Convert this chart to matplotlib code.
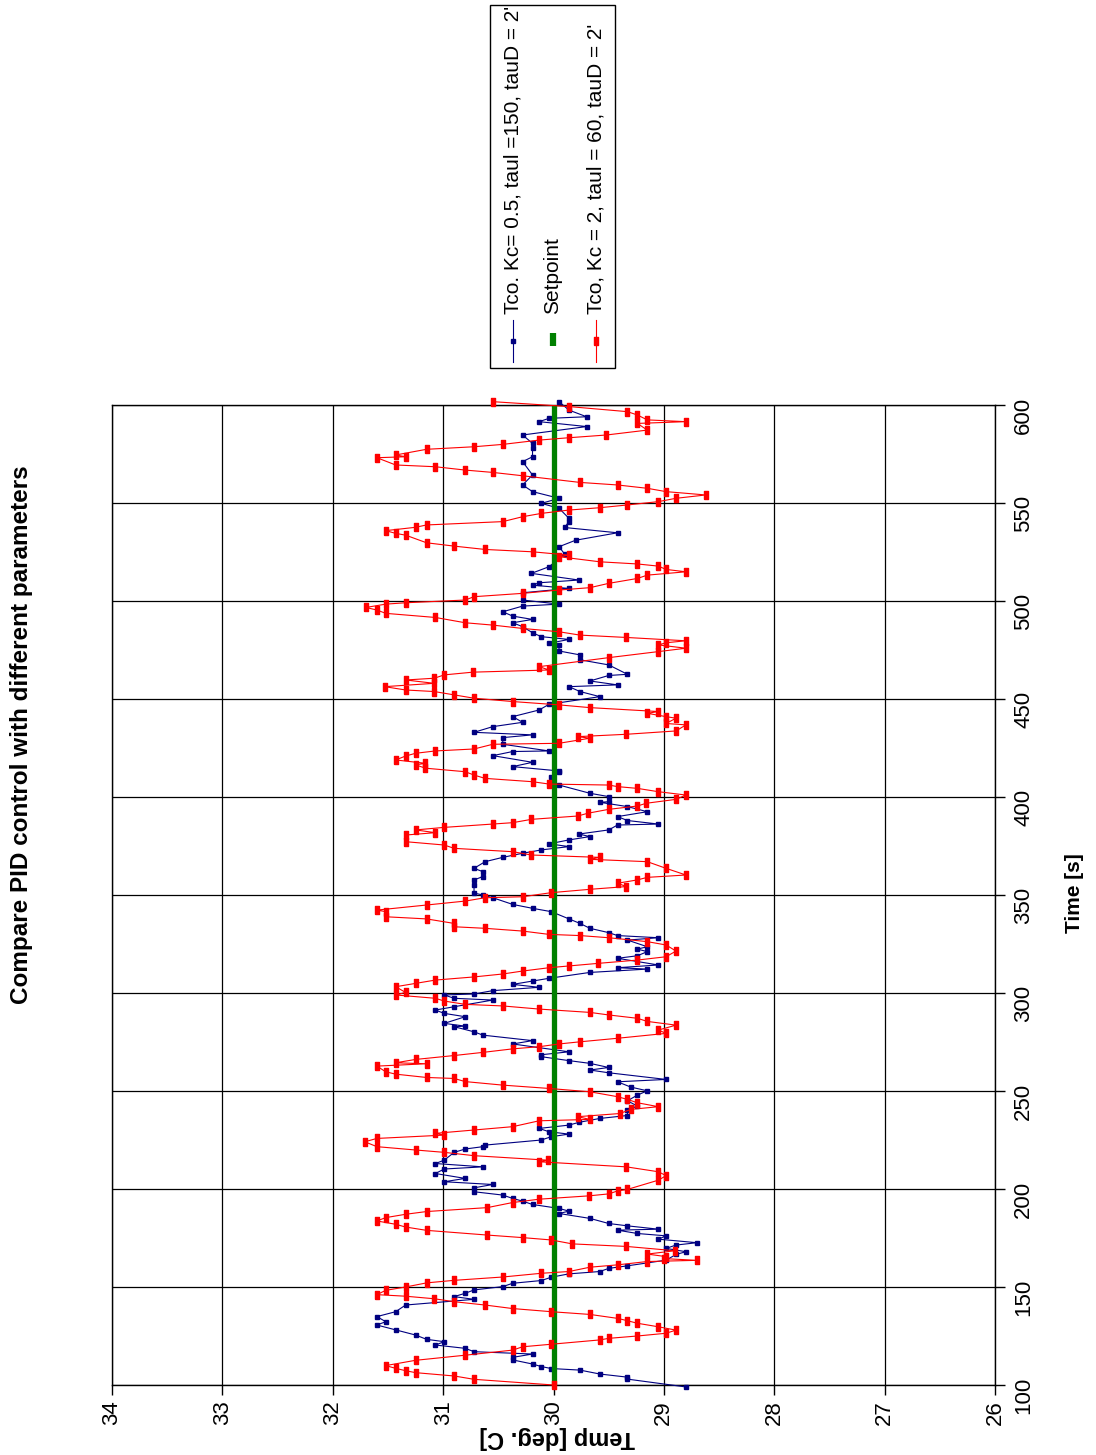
import matplotlib
matplotlib.use("Agg")
import matplotlib.pyplot as plt
from matplotlib.lines import Line2D
from matplotlib.patches import Rectangle

plt.rcParams['font.family'] = ['Liberation Sans', 'DejaVu Sans']

title = "Compare PID control with different parameters"
time_label = "Time [s]"
temp_label = "Temp [deg. C]"
legend_labels = ["Tco. Kc= 0.5, taul =150, tauD = 2'",
                 "Setpoint",
                 "Tco, Kc = 2, taul = 60, tauD = 2'"]

time_ticks = [100, 150, 200, 250, 300, 350, 400, 450, 500, 550, 600]
temp_ticks = [34, 33, 32, 31, 30, 29, 28, 27, 26]

# Tco, Kc=0.5, tauI=150 (blue)
blue_t = [99.0, 103.0, 104.0, 105.6, 107.6, 108.4, 109.4, 110.7, 112.8, 114.1,
          115.8, 117.0, 118.7, 120.4, 122.1, 123.3, 125.5, 128.1, 130.6, 132.3,
          134.9, 137.4, 140.8, 143.7, 145.1, 146.8, 148.5, 150.2, 151.9, 153.3,
          155.0, 156.7, 157.9, 159.5, 160.8, 163.7, 166.6, 168.0, 169.7, 171.4,
          172.6, 174.4, 176.1, 177.3, 179.0, 179.5, 181.2, 182.4, 185.0, 187.5,
          188.7, 190.1, 192.1, 193.8, 195.2, 196.9, 198.6, 200.6, 202.3, 203.7,
          205.4, 207.9, 210.2, 211.3, 213.0, 214.7, 218.7, 220.4, 221.6, 222.4,
          225.0, 226.7, 228.0, 229.2, 230.9, 232.6, 234.0, 236.0, 237.5, 240.3,
          242.3, 245.0, 247.9, 250.1, 252.0, 254.7, 255.9, 259.3, 260.7, 262.0,
          264.1, 265.5, 267.5, 268.5, 270.0, 274.0, 275.7, 278.5, 280.2, 282.8,
          283.1, 284.5, 287.9, 289.6, 291.3, 293.0, 296.4, 297.3, 299.0, 299.5,
          301.2, 302.9, 304.4, 306.1, 307.5, 310.5, 312.2, 312.9, 314.3, 317.7,
          319.0, 321.1, 322.4, 323.6, 327.0, 328.2, 329.3, 330.8, 333.0, 335.5,
          337.8, 341.5, 343.2, 345.2, 348.6, 350.0, 351.0, 355.1, 357.7, 359.4,
          361.9, 363.6, 367.0, 369.2, 371.3, 373.0, 374.7, 376.1, 378.1, 379.8,
          381.1, 383.2, 385.7, 386.2, 388.0, 390.0, 392.5, 395.1, 397.3, 397.6,
          400.2, 401.9, 406.1, 406.7, 410.4, 412.9, 413.3, 415.5, 417.7, 421.1,
          423.2, 423.5, 426.9, 430.3, 431.7, 433.0, 435.9, 438.1, 441.0, 444.4,
          447.3, 451.2, 453.8, 456.3, 457.2, 459.2, 462.0, 462.6, 467.4, 470.0,
          472.5, 474.5, 477.6, 478.4, 480.4, 481.8, 483.8, 486.9, 488.9, 490.6,
          492.3, 494.5, 497.4, 498.4, 500.5, 504.2, 506.4, 508.1, 509.3, 510.7,
          514.1, 517.5, 524.0, 527.7, 531.0, 534.8, 537.5, 540.5, 542.2, 547.3,
          549.8, 552.4, 555.8, 559.2, 564.3, 571.1, 573.6, 577.9, 580.4, 584.7,
          589.0, 591.5, 593.2, 594.0, 597.4, 601.7]
blue_T = [28.80, 29.33, 29.33, 29.58, 29.76, 30.02, 30.11, 30.19, 30.37, 30.37,
          30.19, 30.72, 30.80, 31.07, 30.99, 31.15, 31.25, 31.43, 31.60, 31.52,
          31.60, 31.43, 31.34, 30.72, 30.90, 30.80, 30.72, 30.46, 30.37, 30.11,
          30.02, 29.86, 29.58, 29.50, 29.33, 28.98, 28.89, 28.80, 28.98, 28.89,
          28.70, 29.05, 28.98, 29.24, 29.42, 29.05, 29.33, 29.50, 29.67, 29.95,
          29.86, 29.95, 30.19, 30.28, 30.37, 30.46, 30.72, 30.72, 30.55, 30.99,
          30.80, 31.07, 30.99, 30.64, 31.07, 30.99, 30.90, 30.80, 30.64, 30.62,
          30.11, 30.02, 29.86, 30.04, 30.13, 29.86, 29.77, 29.58, 29.33, 29.33,
          29.24, 29.33, 29.24, 29.15, 29.30, 29.42, 28.98, 29.50, 29.67, 29.50,
          29.67, 29.86, 30.11, 30.11, 29.86, 30.37, 30.19, 30.64, 30.72, 30.90,
          30.80, 30.99, 30.80, 30.99, 31.07, 30.90, 30.55, 30.90, 30.99, 30.72,
          30.55, 30.13, 30.37, 30.19, 30.04, 29.67, 29.15, 29.42, 29.05, 29.42,
          29.24, 29.15, 29.24, 29.15, 29.33, 29.05, 29.42, 29.50, 29.67, 29.76,
          29.86, 30.02, 30.19, 30.37, 30.55, 30.64, 30.72, 30.72, 30.72, 30.64,
          30.64, 30.72, 30.62, 30.46, 30.28, 30.11, 29.86, 30.04, 29.86, 29.67,
          29.77, 29.50, 29.42, 29.05, 29.33, 29.42, 29.15, 29.33, 29.58, 29.50,
          29.50, 29.67, 29.95, 30.02, 30.02, 29.95, 29.95, 30.37, 30.19, 30.55,
          30.37, 30.04, 30.46, 30.46, 30.19, 30.72, 30.55, 30.28, 30.37, 30.13,
          30.04, 29.58, 29.76, 29.86, 29.42, 29.67, 29.50, 29.33, 29.50, 29.76,
          29.76, 29.95, 29.95, 30.04, 29.86, 30.11, 30.19, 30.28, 30.37, 30.19,
          30.37, 30.46, 30.28, 29.95, 30.28, 30.28, 29.86, 30.19, 30.13, 29.77,
          30.20, 30.04, 29.90, 29.95, 29.80, 29.42, 29.90, 29.86, 29.86, 29.95,
          30.11, 29.95, 30.19, 30.28, 30.19, 30.28, 30.19, 30.19, 30.19, 30.28,
          29.70, 30.13, 30.04, 29.70, 29.86, 29.95]

# Tco, Kc=2, tauI=60 (red)
red_t = [100.0, 102.9, 104.6, 106.3, 107.3, 108.5, 109.9, 112.6, 115.2, 117.8,
         119.5, 120.8, 123.0, 123.8, 125.0, 126.4, 128.0, 129.7, 131.5, 132.8,
         134.0, 136.0, 137.4, 139.0, 140.8, 142.5, 144.0, 145.3, 146.1, 148.3,
         150.0, 152.1, 153.4, 155.1, 157.0, 157.9, 160.1, 161.3, 163.0, 163.6,
         164.5, 165.5, 166.8, 168.5, 170.7, 172.0, 174.0, 175.2, 176.5, 178.9,
         180.6, 182.0, 183.7, 185.4, 187.1, 188.5, 190.5, 193.1, 194.8, 196.5,
         197.5, 199.0, 199.8, 204.5, 206.8, 208.8, 211.3, 213.9, 214.7, 217.0,
         218.7, 219.9, 221.6, 224.1, 225.8, 227.5, 228.4, 230.1, 231.8, 234.8,
         235.5, 236.9, 238.5, 240.6, 242.0, 244.0, 245.7, 247.1, 249.6, 251.3,
         253.0, 254.8, 256.4, 256.9, 258.6, 259.8, 262.7, 263.9, 264.4, 266.1,
         268.1, 269.7, 271.5, 272.6, 274.0, 275.1, 276.9, 279.4, 281.1, 283.6,
         285.5, 287.1, 288.8, 290.1, 291.8, 293.4, 294.2, 295.9, 297.3, 299.0,
         300.3, 303.2, 304.9, 306.6, 308.2, 309.7, 311.2, 312.9, 313.8, 315.1,
         316.8, 318.5, 321.4, 324.5, 326.2, 328.2, 329.3, 329.9, 331.6, 333.0,
         333.8, 335.5, 337.8, 338.9, 341.5, 342.3, 344.9, 346.9, 348.6, 349.1,
         351.2, 352.9, 354.3, 356.0, 357.7, 359.0, 360.2, 363.6, 367.0, 368.2,
         369.2, 370.4, 372.1, 373.8, 375.5, 377.2, 380.6, 381.8, 383.2, 384.5,
         386.2, 386.9, 388.6, 390.3, 391.7, 393.7, 395.4, 396.8, 398.8, 401.0,
         402.7, 404.4, 405.3, 406.1, 406.6, 407.8, 409.5, 411.2, 412.9, 414.7,
         416.4, 417.2, 418.9, 420.9, 422.3, 423.5, 424.5, 426.9, 427.4, 430.0,
         430.8, 432.0, 433.7, 436.8, 437.5, 440.2, 441.0, 442.7, 443.6, 445.6,
         447.0, 448.7, 450.4, 452.1, 453.8, 454.6, 456.3, 458.0, 459.7, 460.6,
         462.3, 463.7, 464.8, 466.5, 471.1, 474.2, 475.9, 477.6, 478.7, 479.7,
         481.4, 482.6, 484.3, 486.0, 487.7, 488.9, 491.6, 493.7, 495.4, 496.7,
         498.4, 499.1, 500.5, 502.2, 503.9, 505.6, 506.8, 509.0, 511.5, 513.2,
         514.9, 516.1, 517.8, 518.9, 520.0, 522.6, 523.4, 525.1, 526.3, 528.0,
         529.7, 533.6, 534.5, 535.9, 537.6, 538.8, 540.5, 543.0, 544.7, 546.4,
         547.6, 549.0, 550.7, 552.4, 554.1, 555.8, 557.5, 559.2, 560.5, 563.9,
         565.6, 566.8, 568.5, 569.4, 573.1, 573.6, 574.5, 577.4, 578.7, 579.9,
         582.1, 583.3, 584.7, 587.2, 590.6, 591.5, 592.4, 594.9, 596.6, 599.2,
         601.7]
red_T = [30.00, 30.72, 30.90, 31.25, 31.34, 31.43, 31.52, 31.25, 30.80, 30.37,
         30.28, 30.02, 29.58, 29.50, 29.24, 28.98, 28.89, 29.05, 29.24, 29.33,
         29.42, 29.67, 30.02, 30.37, 30.62, 30.90, 31.08, 31.34, 31.60, 31.52,
         31.34, 31.15, 30.90, 30.46, 30.11, 29.86, 29.67, 29.42, 29.15, 28.70,
         29.00, 28.98, 29.15, 28.90, 29.34, 29.83, 30.02, 30.28, 30.60, 31.15,
         31.34, 31.43, 31.60, 31.52, 31.34, 31.15, 30.60, 30.37, 30.13, 29.68,
         29.50, 29.42, 29.33, 29.05, 28.98, 29.05, 29.34, 30.13, 30.05, 30.72,
         30.99, 31.25, 31.60, 31.71, 31.60, 30.99, 31.07, 30.72, 30.37, 30.13,
         29.67, 29.78, 29.40, 29.30, 29.05, 29.24, 29.33, 29.42, 29.67, 30.04,
         30.46, 30.80, 30.90, 31.15, 31.43, 31.52, 31.60, 31.15, 31.43, 31.25,
         30.90, 30.64, 30.37, 30.13, 29.95, 29.76, 29.42, 28.98, 29.05, 28.89,
         29.15, 29.24, 29.50, 29.67, 30.13, 30.46, 30.80, 30.99, 31.07, 31.43,
         31.34, 31.43, 31.25, 31.07, 30.72, 30.46, 30.28, 30.04, 29.86, 29.60,
         29.24, 28.98, 28.89, 28.98, 29.15, 29.50, 29.76, 30.04, 30.28, 30.62,
         30.90, 30.90, 31.15, 31.52, 31.52, 31.60, 31.15, 30.80, 30.62, 30.28,
         30.02, 29.67, 29.34, 29.42, 29.24, 29.15, 28.80, 28.98, 29.15, 29.67,
         29.58, 30.20, 30.37, 30.90, 30.99, 31.34, 31.34, 31.07, 31.25, 30.99,
         30.55, 30.37, 30.20, 29.78, 29.69, 29.50, 29.24, 29.16, 28.89, 28.80,
         29.05, 29.24, 29.42, 29.50, 30.04, 30.19, 30.62, 30.72, 30.80, 31.16,
         31.25, 31.16, 31.43, 31.34, 31.25, 31.07, 30.72, 30.55, 29.95, 29.67,
         29.78, 29.34, 28.89, 28.80, 28.98, 28.89, 28.98, 29.15, 29.05, 29.67,
         29.95, 30.37, 30.72, 30.90, 31.08, 31.34, 31.53, 31.08, 31.34, 31.08,
         30.99, 30.73, 30.04, 30.13, 29.50, 29.05, 28.80, 29.05, 28.98, 28.80,
         29.34, 29.76, 29.95, 30.28, 30.55, 30.80, 31.07, 31.52, 31.60, 31.70,
         31.52, 31.34, 30.80, 30.72, 30.28, 29.95, 29.67, 29.50, 29.24, 29.15,
         28.80, 28.98, 29.05, 29.24, 29.58, 29.95, 29.86, 30.19, 30.62, 30.90,
         31.15, 31.34, 31.43, 31.52, 31.25, 31.15, 30.46, 30.28, 30.11, 29.86,
         29.58, 29.33, 29.05, 28.89, 28.62, 28.98, 29.15, 29.42, 29.76, 30.28,
         30.55, 30.80, 31.07, 31.43, 31.60, 31.34, 31.43, 31.15, 30.72, 30.46,
         30.13, 29.86, 29.52, 29.15, 29.24, 28.80, 29.15, 29.24, 29.33, 29.86,
         30.55]

setpoint_t = [100, 600]
setpoint_T = [30, 30]

NAVY = '#000080'
RED = '#ff0000'
GREEN = '#008000'
rect_marker = [(-0.55, -1), (0.55, -1), (0.55, 1), (-0.55, 1), (-0.55, -1)]

W, H = 1096, 1455
fig = plt.figure(figsize=(W / 100, H / 100), dpi=100)

# chart is drawn turned a quarter turn: temperature across, time upwards
ax = fig.add_axes([112 / W, 70 / H, 883 / W, 980 / H])
ax.plot(blue_T, blue_t, color=NAVY, lw=0.8, marker='s', ms=3.3,
        mec=NAVY, mfc=NAVY, clip_on=False, zorder=3)
ax.plot(setpoint_T, setpoint_t, color=GREEN, lw=3.8, solid_capstyle='butt', zorder=4)
ax.plot(red_T, red_t, color=RED, lw=0.8, marker=rect_marker, ms=6,
        mec=RED, mfc=RED, clip_on=False, zorder=5)

ax.set_xlim(34, 26)
ax.set_ylim(100, 600)
ax.set_xticks(temp_ticks)
ax.set_yticks(time_ticks)
ax.set_xticklabels([str(v) for v in temp_ticks])
ax.set_yticklabels([str(v) for v in time_ticks])
ax.yaxis.tick_right()
ax.grid(True, color='black', lw=0.9)
ax.set_axisbelow(True)
for s in ax.spines.values():
    s.set_color('black')
    s.set_linewidth(1)
ax.tick_params(axis='x', labelrotation=90, labelsize=16, length=7, width=1, pad=4)
ax.tick_params(axis='y', labelrotation=90, labelsize=16, length=7, width=1, pad=6)

fig.text(22 / W, 1 - 735 / H, title, rotation=90, fontsize=17.5, fontweight='bold',
         ha='center', va='center')
fig.text(1075 / W, 1 - 893 / H, time_label, rotation=90, fontsize=15, fontweight='bold',
         ha='center', va='center')
fig.text(557 / W, 1 - 1437 / H, temp_label, rotation=180, fontsize=17, fontweight='bold',
         ha='center', va='center')

# legend box
fig.add_artist(Rectangle((490 / W, 1 - 368 / H), 125 / W, 363 / H, transform=fig.transFigure,
                         facecolor='white', edgecolor='black', lw=1))
xs = [513, 553, 596]
fig.add_artist(Line2D([xs[0] / W] * 2, [1 - 320 / H, 1 - 362 / H], transform=fig.transFigure,
                      color=NAVY, lw=0.8))
fig.add_artist(Line2D([xs[0] / W], [1 - 341 / H], transform=fig.transFigure, color=NAVY,
                      marker='s', ms=3.3, lw=0))
fig.add_artist(Line2D([xs[1] / W] * 2, [1 - 333 / H, 1 - 346 / H], transform=fig.transFigure,
                      color=GREEN, lw=4.5, solid_capstyle='butt'))
fig.add_artist(Line2D([xs[2] / W] * 2, [1 - 320 / H, 1 - 362 / H], transform=fig.transFigure,
                      color=RED, lw=0.8))
fig.add_artist(Line2D([xs[2] / W], [1 - 341 / H], transform=fig.transFigure, color=RED,
                      marker=rect_marker, ms=6, lw=0))
for x, lab in zip(xs, legend_labels):
    fig.text(x / W, 1 - 314 / H, lab, rotation=90, rotation_mode='anchor',
             ha='left', va='center', fontsize=15)

fig.savefig('out.png', dpi=100)
